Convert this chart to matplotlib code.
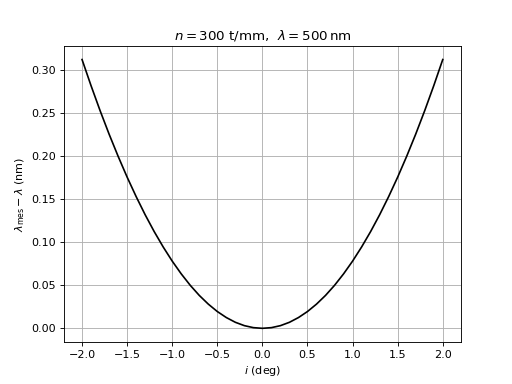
import numpy as np
import matplotlib
matplotlib.use("Agg")
import matplotlib.pyplot as plt

# incidence angle (deg) and wavelength error (nm)
i_deg = [-2.0, -1.9, -1.8, -1.7, -1.6, -1.5, -1.4, -1.3, -1.2, -1.1, -1.0,
         -0.9, -0.8, -0.7, -0.6, -0.5, -0.4, -0.3, -0.2, -0.1, 0.0,
         0.1, 0.2, 0.3, 0.4, 0.5, 0.6, 0.7, 0.8, 0.9, 1.0,
         1.1, 1.2, 1.3, 1.4, 1.5, 1.6, 1.7, 1.8, 1.9, 2.0]
dlam = [0.312, 0.2816, 0.2527, 0.2254, 0.1997, 0.1755, 0.1529, 0.1318, 0.1123, 0.0944, 0.078,
        0.0632, 0.0499, 0.0382, 0.0281, 0.0195, 0.0125, 0.0070, 0.0031, 0.00078, 0.0,
        0.00078, 0.0031, 0.0070, 0.0125, 0.0195, 0.0281, 0.0382, 0.0499, 0.0632, 0.078,
        0.0944, 0.1123, 0.1318, 0.1529, 0.1755, 0.1997, 0.2254, 0.2527, 0.2816, 0.312]

fig, ax = plt.subplots(figsize=(6.4, 4.8), dpi=80)
ax.plot(i_deg, dlam, color="black")
ax.grid(True)
ax.set_xlabel(r"$i$ (deg)")
ax.set_ylabel(r"$\lambda_{\rm mes}-\lambda$ (nm)")
ax.set_title(r"$n=300$ t/mm,  $\lambda=500\,\mathrm{nm}$")
fig.savefig("out.png", dpi=80)
